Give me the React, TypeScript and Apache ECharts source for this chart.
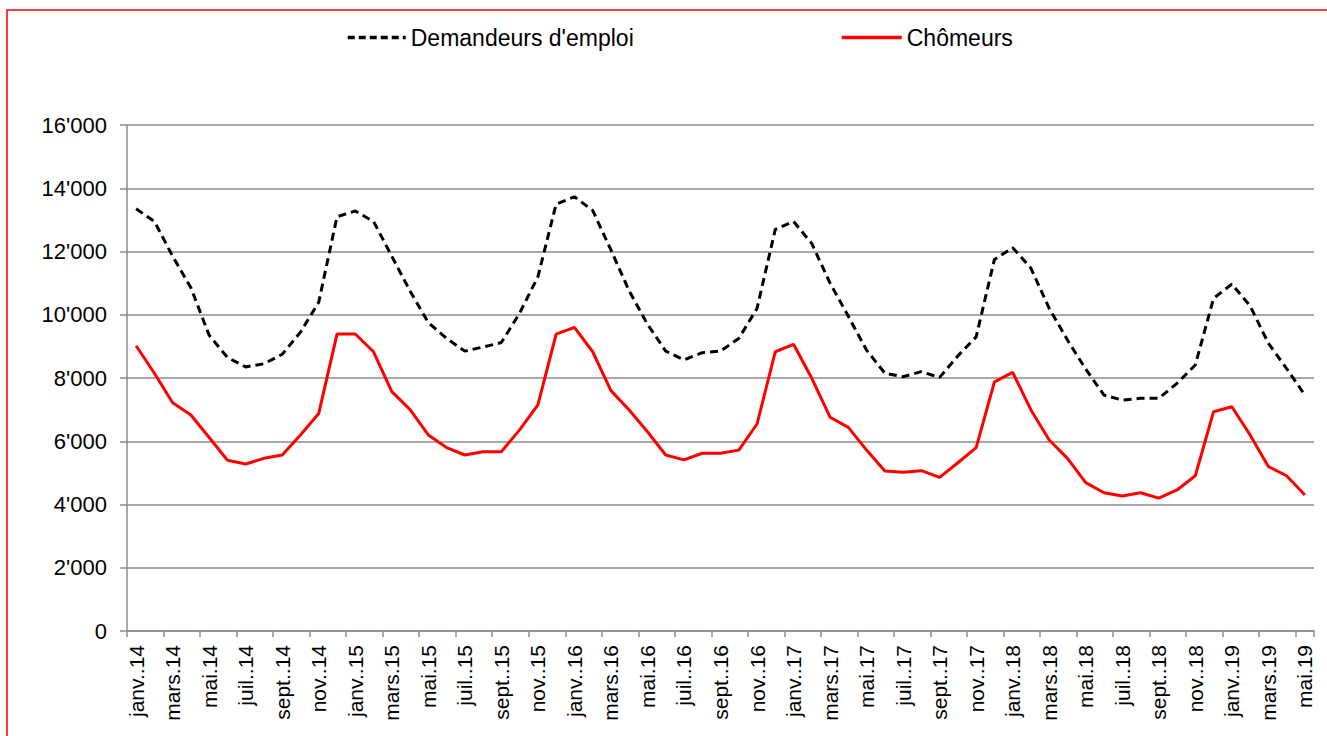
import React, { useEffect, useRef } from "react";
import * as echarts from "echarts";

const categories = [
  "janv..14", "févr..14", "mars.14", "avr..14", "mai.14", "juin.14", "juil..14", "août.14", "sept..14", "oct..14", "nov..14", "déc..14",
  "janv..15", "févr..15", "mars.15", "avr..15", "mai.15", "juin.15", "juil..15", "août.15", "sept..15", "oct..15", "nov..15", "déc..15",
  "janv..16", "févr..16", "mars.16", "avr..16", "mai.16", "juin.16", "juil..16", "août.16", "sept..16", "oct..16", "nov..16", "déc..16",
  "janv..17", "févr..17", "mars.17", "avr..17", "mai.17", "juin.17", "juil..17", "août.17", "sept..17", "oct..17", "nov..17", "déc..17",
  "janv..18", "févr..18", "mars.18", "avr..18", "mai.18", "juin.18", "juil..18", "août.18", "sept..18", "oct..18", "nov..18", "déc..18",
  "janv..19", "févr..19", "mars.19", "avr..19", "mai.19",
];

const demandeurs = [
  13350, 12950, 11850, 10850, 9350, 8650, 8350, 8450, 8750, 9450, 10400, 13100,
  13280, 12950, 11850, 10750, 9750, 9250, 8850, 8980, 9120, 10050, 11200, 13500,
  13730, 13300, 12050, 10750, 9700, 8850, 8570, 8800, 8850, 9250, 10200, 12700,
  12950, 12250, 11000, 9950, 8880, 8150, 8040, 8200, 8020, 8700, 9300, 11750,
  12120, 11470, 10200, 9200, 8280, 7460, 7300, 7360, 7360, 7830, 8410, 10520,
  10970, 10280, 9100, 8300, 7460,
];

const chomeurs = [
  9020, 8150, 7220, 6830, 6120, 5400, 5280, 5460, 5565, 6200, 6880, 9390,
  9390, 8830, 7570, 7000, 6200, 5800, 5565, 5670, 5670, 6360, 7150, 9390,
  9600, 8830, 7600, 6990, 6300, 5565, 5410, 5620, 5620, 5720, 6545, 8830,
  9065, 7990, 6760, 6440, 5720, 5060, 5020, 5070, 4860, 5320, 5800, 7880,
  8180, 6990, 6040, 5460, 4690, 4370, 4270, 4370, 4200, 4460, 4910, 6935,
  7090, 6200, 5200, 4910, 4300,
];

const seriesNames = ["Demandeurs d'emploi", "Chômeurs"];

const FONT = "'Liberation Sans', Arial, sans-serif";

function fmt(v: number): string {
  if (v === 0) return "0";
  const th = Math.floor(v / 1000);
  const rest = String(v % 1000).padStart(3, "0");
  return `${th}'${rest}`;
}

export default function App() {
  const ref = useRef<HTMLDivElement>(null);

  useEffect(() => {
    if (!ref.current) return;
    const chart = echarts.init(ref.current, null, { renderer: "svg" });
    const gray = "#8c8c8c";
    chart.setOption({
      animation: false,
      backgroundColor: "#ffffff",
      textStyle: { fontFamily: FONT, color: "#000" },
      graphic: [
        {
          type: "rect",
          shape: { x: 7, y: 10, width: 1340, height: 760 },
          style: { fill: "none", stroke: "#ff0000", lineWidth: 1.5 },
          silent: true,
          z: 100,
        },
      ],
      legend: [
        {
          data: [seriesNames[0]],
          left: 346,
          top: 26,
          padding: 0,
          itemWidth: 58,
          itemHeight: 14,
          itemStyle: { opacity: 0 },
          lineStyle: { width: 3.5, type: [7, 4] },
          textStyle: { fontFamily: FONT, fontSize: 23, color: "#000" },
        },
        {
          data: [seriesNames[1]],
          left: 840,
          top: 26,
          padding: 0,
          itemWidth: 60,
          itemHeight: 14,
          itemStyle: { opacity: 0 },
          lineStyle: { width: 3.5 },
          textStyle: { fontFamily: FONT, fontSize: 23, color: "#000" },
        },
      ],
      grid: { left: 127, right: 13, top: 125, bottom: 105, containLabel: false },
      xAxis: {
        type: "category",
        data: categories,
        boundaryGap: true,
        axisLine: { show: true, lineStyle: { color: gray, width: 1.5 } },
        axisTick: { show: true, interval: 1, length: 6, lineStyle: { color: gray, width: 1.5 } },
        axisLabel: {
          interval: 1,
          rotate: 90,
          margin: 14,
          fontFamily: FONT,
          fontSize: 21,
          color: "#000",
        },
        splitLine: { show: false },
      },
      yAxis: {
        type: "value",
        min: 0,
        max: 16000,
        interval: 2000,
        axisLine: { show: true, lineStyle: { color: gray, width: 1.5 } },
        axisTick: { show: true, length: 7, lineStyle: { color: gray, width: 1.5 } },
        axisLabel: {
          margin: 20,
          fontFamily: FONT,
          fontSize: 22,
          color: "#000",
          formatter: (v: number) => fmt(v),
        },
        splitLine: { show: true, lineStyle: { color: gray, width: 1.5 } },
      },
      series: [
        {
          name: seriesNames[0],
          type: "line",
          data: demandeurs,
          symbol: "none",
          lineStyle: { color: "#000000", width: 3, type: [8, 5] },
          itemStyle: { color: "#000000" },
        },
        {
          name: seriesNames[1],
          type: "line",
          data: chomeurs,
          symbol: "none",
          lineStyle: { color: "#ff0000", width: 3 },
          itemStyle: { color: "#ff0000" },
        },
      ],
    });
    return () => chart.dispose();
  }, []);

  return (
    <div
      ref={ref}
      style={{ position: "absolute", left: 0, top: 0, width: 1327, height: 736 }}
    />
  );
}
